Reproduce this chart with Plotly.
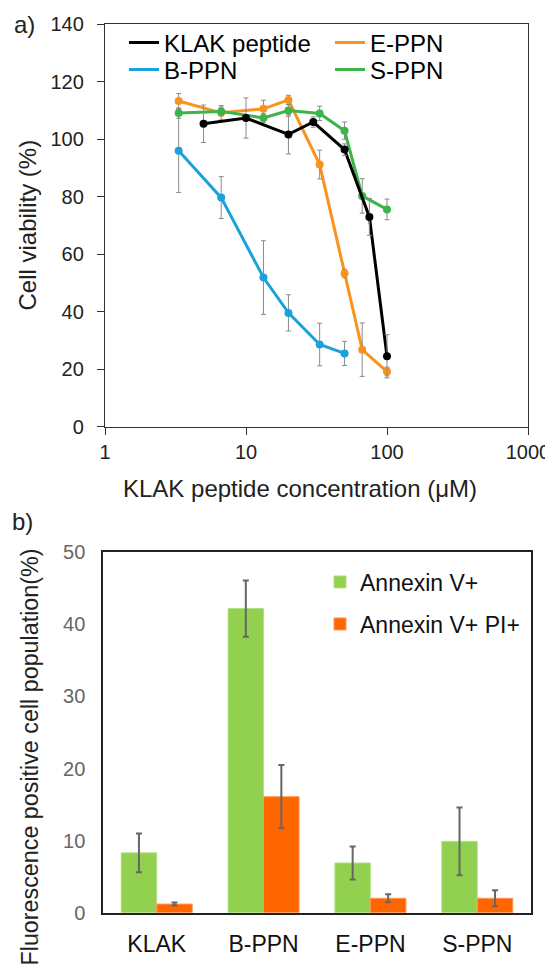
import plotly.graph_objects as go

# ---------------- data: panel a ----------------
klak_conc = [5, 10, 20, 30, 50, 75, 100]
klak_viability = [105.4, 107.4, 101.7, 106.0, 96.4, 73.0, 24.5]
klak_err = [6.5, 7.0, 6.8, 1.8, 2.0, 6.4, 7.5]

eppn_conc = [3.33, 6.67, 13.3, 20, 33.3, 50, 66.7, 100]
eppn_viability = [113.3, 109.2, 110.6, 113.7, 91.2, 53.3, 26.8, 19.2]
eppn_err = [2.6, 2.5, 3.0, 1.6, 5.0, 1.5, 9.3, 1.5]

bppn_conc = [3.33, 6.67, 13.3, 20, 33.3, 50]
bppn_viability = [96.0, 79.7, 51.9, 39.6, 28.6, 25.5]
bppn_err = [14.5, 7.3, 12.8, 6.3, 7.4, 4.2]

sppn_conc = [3.33, 6.67, 13.3, 20, 33.3, 50, 66.7, 100]
sppn_viability = [109.1, 109.7, 107.4, 110.0, 109.0, 103.0, 80.3, 75.6]
sppn_err = [1.8, 1.5, 1.5, 2.0, 2.5, 3.0, 6.0, 3.6]

x_tickvals = [1, 10, 100, 1000]
x_ticktext = ["1", "10", "100", "1000"]

# ---------------- data: panel b ----------------
categories = ["KLAK", "B-PPN", "E-PPN", "S-PPN"]
annexin_v = [8.3, 42.2, 6.9, 9.9]
annexin_v_err = [2.7, 3.9, 2.3, 4.7]
annexin_v_pi = [1.2, 16.1, 2.0, 2.0]
annexin_v_pi_err = [0.2, 4.4, 0.55, 1.1]

W, H = 553, 977
OFF = 8  # the page body margin shifts the figure by 8 px right and down
FONT = "Liberation Sans, Arial, sans-serif"


def px(x):
    return (x - OFF) / W


def py(y):
    return 1 - (y - OFF) / H


fig = go.Figure()


def add_series(name, x, y, e, color, legend, rank):
    # line (shown in legend as a plain line sample)
    fig.add_trace(go.Scatter(
        x=x, y=y, name=name, mode="lines",
        line=dict(color=color, width=3),
        xaxis="x", yaxis="y", legend=legend, legendrank=rank,
        legendgroup=name,
    ))
    # markers with error bars (not in legend)
    fig.add_trace(go.Scatter(
        x=x, y=y, name=name, mode="markers",
        marker=dict(color=color, size=8),
        error_y=dict(type="data", array=e, visible=True,
                     color="#8a8a8a", thickness=1, width=2.5),
        xaxis="x", yaxis="y", showlegend=False, legendgroup=name,
    ))


add_series("E-PPN", eppn_conc, eppn_viability, eppn_err, "#F7941D", "legend", 2)
add_series("B-PPN", bppn_conc, bppn_viability, bppn_err, "#1BA1DB", "legend2", 1)
add_series("S-PPN", sppn_conc, sppn_viability, sppn_err, "#3CB44A", "legend2", 2)
add_series("KLAK peptide", klak_conc, klak_viability, klak_err, "#000000", "legend", 1)

fig.add_trace(go.Bar(
    x=categories, y=annexin_v, name="Annexin V+",
    marker=dict(color="#92D050", line=dict(color="#B5E08A", width=1)),
    error_y=dict(type="data", array=annexin_v_err, visible=True,
                 color="#666666", thickness=2, width=3),
    xaxis="x2", yaxis="y2", legend="legend3",
))
fig.add_trace(go.Bar(
    x=categories, y=annexin_v_pi, name="Annexin V+ PI+",
    marker=dict(color="#FF6600", line=dict(color="#FF9A5C", width=1)),
    error_y=dict(type="data", array=annexin_v_pi_err, visible=True,
                 color="#666666", thickness=2, width=3),
    xaxis="x2", yaxis="y2", legend="legend4",
))

legend_common = dict(orientation="h", xanchor="left", yanchor="middle",
                     bgcolor="rgba(0,0,0,0)", borderwidth=0,
                     font=dict(family=FONT, size=24, color="#000000"),
                     itemwidth=30, entrywidth=161, entrywidthmode="pixels",
                     itemclick=False, itemdoubleclick=False)
bar_legend_common = dict(xanchor="left", yanchor="middle",
                         bgcolor="rgba(0,0,0,0)", borderwidth=0,
                         font=dict(family=FONT, size=23, color="#111111"),
                         itemclick=False, itemdoubleclick=False)

fig.update_layout(
    width=W, height=H,
    margin=dict(l=0, r=0, t=0, b=0),
    paper_bgcolor="white", plot_bgcolor="white",
    font=dict(family=FONT, size=20, color="#222222"),
    barmode="group", bargap=0.335, bargroupgap=0,
    showlegend=True,
    xaxis=dict(
        type="log", range=[0, 3], domain=[px(105), px(528)], anchor="y",
        tickvals=x_tickvals, ticktext=x_ticktext,
        ticks="outside", ticklen=7, tickwidth=1.3, tickcolor="#333333",
        showline=True, linecolor="#333333", linewidth=1.3, mirror=True,
        showgrid=False, zeroline=False, automargin=False,
        tickfont=dict(family=FONT, size=20, color="#222222"),
        ticklabelstandoff=0, ticklabeloverflow="allow",
    ),
    yaxis=dict(
        range=[0, 140], dtick=20, domain=[py(426.7), py(24.3)], anchor="x",
        ticks="outside", ticklen=7, tickwidth=1.3, tickcolor="#333333",
        showline=True, linecolor="#333333", linewidth=1.3, mirror=True,
        showgrid=False, zeroline=False, automargin=False,
        tickfont=dict(family=FONT, size=20, color="#222222"),
        ticklabelstandoff=9, ticklabeloverflow="allow",
    ),
    xaxis2=dict(
        type="category", domain=[px(103.3), px(530.7)], anchor="y2",
        ticks="", showline=True, linecolor="#222222", linewidth=2, mirror=True,
        showgrid=False, zeroline=False, automargin=False,
        tickfont=dict(family=FONT, size=23, color="#111111"),
        ticklabelstandoff=10, ticklabeloverflow="allow",
    ),
    yaxis2=dict(
        range=[0, 50], dtick=10, domain=[py(912.7), py(552.3)], anchor="x2",
        ticks="", showline=True, linecolor="#222222", linewidth=2, mirror=True,
        showgrid=False, zeroline=False, automargin=False,
        tickfont=dict(family=FONT, size=20, color="#666666"),
        ticklabelstandoff=12, ticklabeloverflow="allow",
    ),
    legend=dict(x=px(124), y=py(43), **legend_common),
    legend2=dict(x=px(124), y=py(70), **legend_common),
    legend3=dict(x=px(320), y=py(582), **bar_legend_common),
    legend4=dict(x=px(320), y=py(624), **bar_legend_common),
)

annotations = [
    dict(text="a)", x=px(24), y=py(24), xanchor="center", yanchor="middle",
         font=dict(size=24, color="#222222")),
    dict(text="b)", x=px(22), y=py(521), xanchor="center", yanchor="middle",
         font=dict(size=24, color="#222222")),
    dict(text="Cell viability (%)", x=px(27), y=py(225.5), textangle=-90,
         xanchor="center", yanchor="middle", font=dict(size=24, color="#222222")),
    dict(text="KLAK peptide concentration (μM)", x=px(300), y=py(489),
         xanchor="center", yanchor="middle", font=dict(size=24, color="#222222")),
    dict(text="Fluorescence positive cell population(%)", x=px(29), y=py(547),
         textangle=-90, xanchor="center", yanchor="top",
         font=dict(size=23.3, color="#222222")),
]
for a in annotations:
    a.update(xref="paper", yref="paper", showarrow=False)
fig.update_layout(annotations=annotations)

fig.write_html("out.html")
